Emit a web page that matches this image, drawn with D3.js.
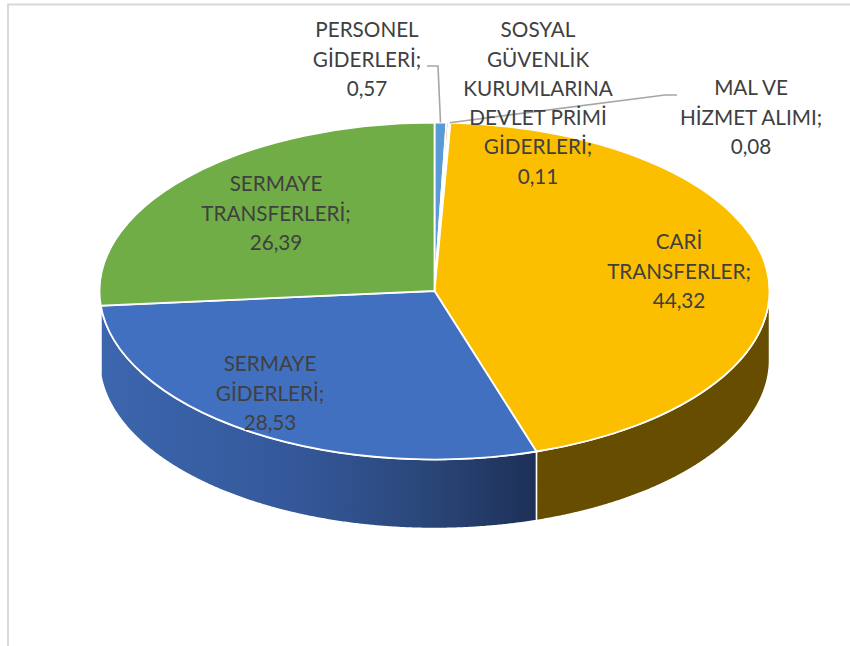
<!DOCTYPE html>
<html>
<head>
<meta charset="utf-8">
<script src="https://cdnjs.cloudflare.com/ajax/libs/d3/7.8.5/d3.min.js"></script>
<style>
    html, body { margin: 0; padding: 0; background: #fff; }
    text { font-family: Lato, "Open Sans", sans-serif; font-size: 20.7px; fill: #404040; }
</style>
</head>
<body>
<div id="chart"></div>
<script>
// values, clockwise from 12 o'clock
let categories = ["PERSONEL GİDERLERİ", "SOSYAL GÜVENLİK KURUMLARINA DEVLET PRİMİ GİDERLERİ", "MAL VE HİZMET ALIMI",
    "CARİ TRANSFERLER", "SERMAYE GİDERLERİ", "SERMAYE TRANSFERLERİ"]
let values = [0.57, 0.11, 0.08, 44.32, 28.53, 26.39]
let valueLabels = ["0,57", "0,11", "0,08", "44,32", "28,53", "26,39"]
let labelLines = [
    ["PERSONEL", "GİDERLERİ;"],
    ["SOSYAL", "GÜVENLİK", "KURUMLARINA", "DEVLET PRİMİ", "GİDERLERİ;"],
    ["MAL VE", "HİZMET ALIMI;"],
    ["CARİ", "TRANSFERLER;"],
    ["SERMAYE", "GİDERLERİ;"],
    ["SERMAYE", "TRANSFERLERİ;"]
]
let topColors = ["#5b9bd5", "#ed7d31", "#a5a5a5", "#fcbf00", "#4270c0", "#70ad47"]

let width = 850, height = 646
let center = {x: 434.5, y: 291}
let rx = 335, ry = 168.5, depth = 69

// label anchor: centre x and centre y of the first text line
let labelAnchors = [[367, 30], [538, 30], [751, 88], [679, 242], [270, 364], [276, 184]]
let lineStep = 29.3

let svg = d3.select("#chart").append("svg")
    .attr("width", width)
    .attr("height", height)
    .style("display", "block")

// picture frame, only top and left show
svg.append("path")
    .attr("d", d3.line()([[850, 4.5], [8, 4.5], [8, 646]]))
    .attr("fill", "none")
    .attr("stroke", "#d9d9d9")
    .attr("stroke-width", 2)

let defs = svg.append("defs")

let blueGrad = defs.append("linearGradient")
    .attr("id", "wall-blue")
    .attr("gradientUnits", "userSpaceOnUse")
    .attr("x1", center.x - rx).attr("x2", 537)
    .attr("y1", 0).attr("y2", 0)
blueGrad.selectAll("stop")
    .data([[0, "#3c66ae"], [0.45, "#34589a"], [0.75, "#2a4678"], [1, "#1d3057"]])
    .join("stop")
    .attr("offset", d => d[0])
    .attr("stop-color", d => d[1])

let wallColors = ["#3c6d9a", "#a05020", "#707070", "#664d00", "url(#wall-blue)", "#4b7530"]

let pie = d3.pie().sort(null)
let slices = pie(values)

let pointX = d3.scaleLinear().domain([-1, 1]).range([center.x - rx, center.x + rx])
let pointY = d3.scaleLinear().domain([-1, 1]).range([center.y - ry, center.y + ry])

// side wall: an area between the rim and the rim pushed down by the depth
let wall = d3.area()
    .x(a => pointX(Math.sin(a)))
    .y0(a => pointY(-Math.cos(a)))
    .y1(a => pointY(-Math.cos(a)) + depth)

function wallAngles(d) {
    let a0 = Math.max(d.startAngle, Math.PI / 2)
    let a1 = Math.min(d.endAngle, Math.PI * 1.5)
    if (a1 <= a0) return []
    return d3.range(a0, a1, 0.005).concat([a1])
}

svg.append("g").selectAll("path")
    .data(slices.filter(d => wallAngles(d).length))
    .join("path")
    .attr("d", d => wall(wallAngles(d)))
    .attr("fill", d => wallColors[d.index])
    .attr("stroke", "#fff")
    .attr("stroke-width", 1.5)

// top face is a normal d3 arc squashed to an ellipse
let arc = d3.arc().innerRadius(0).outerRadius(rx)

svg.append("g")
    .attr("transform", `translate(${center.x},${center.y}) scale(1,${ry / rx})`)
    .selectAll("path")
    .data(slices)
    .join("path")
    .attr("d", arc)
    .attr("fill", d => topColors[d.index])
    .attr("stroke", "#fff")
    .attr("stroke-width", 1.8)
    .attr("vector-effect", "non-scaling-stroke")

// leader lines for the two thin slices
let leaderData = [
    {slice: 0, elbow: [438, 66], end: [427, 66]},
    {slice: 2, elbow: [665, 95], end: [677, 95]}
]
svg.append("g").selectAll("path")
    .data(leaderData)
    .join("path")
    .attr("d", d => {
        let mid = (slices[d.slice].startAngle + slices[d.slice].endAngle) / 2
        return d3.line()([[pointX(Math.sin(mid)), pointY(-Math.cos(mid))], d.elbow, d.end])
    })
    .attr("fill", "none")
    .attr("stroke", "#a6a6a6")
    .attr("stroke-width", 1.6)

let labels = svg.append("g").selectAll("text")
    .data(slices)
    .join("text")
    .attr("text-anchor", "middle")
    .attr("transform", d => `translate(${labelAnchors[d.index][0]},${labelAnchors[d.index][1]})`)

labels.selectAll("tspan")
    .data(d => labelLines[d.index].concat([valueLabels[d.index]]))
    .join("tspan")
    .attr("x", 0)
    .attr("y", (d, i) => i * lineStep)
    .attr("dy", "0.35em")
    .text(d => d)
</script>
</body>
</html>
